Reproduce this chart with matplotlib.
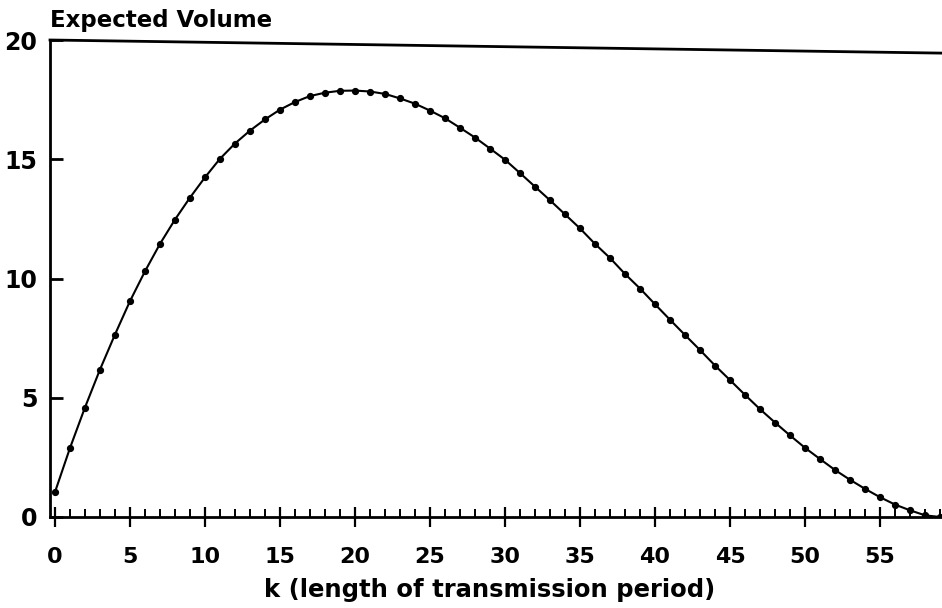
#!/usr/bin/env python3

import matplotlib
matplotlib.use("Agg")
import matplotlib.pyplot as plt
import numpy as np
from matplotlib.ticker import MultipleLocator

# expected volume for each k
k = np.arange(0, 60)
volume = [1.04, 2.89, 4.59, 6.18, 7.65, 9.05, 10.30, 11.45, 12.47, 13.39,
          14.24, 15.02, 15.66, 16.20, 16.67, 17.08, 17.40, 17.65, 17.79, 17.87,
          17.88, 17.84, 17.74, 17.55, 17.33, 17.04, 16.72, 16.32, 15.91, 15.45,
          14.98, 14.42, 13.85, 13.28, 12.69, 12.10, 11.45, 10.86, 10.19, 9.58,
          8.92, 8.27, 7.63, 7.00, 6.35, 5.74, 5.12, 4.52, 3.96, 3.42,
          2.90, 2.43, 1.97, 1.56, 1.18, 0.83, 0.52, 0.28, 0.07, 0.0]

# upper line across the top of the plot
top_k = [-0.33, 59.13]
top_v = [20.0, 19.45]

xticks = [0, 5, 10, 15, 20, 25, 30, 35, 40, 45, 50, 55]
yticks = [0, 5, 10, 15, 20]

plt.rcParams['font.family'] = ['DejaVu Sans']
plt.rcParams['font.weight'] = 'bold'

fig = plt.figure(figsize=(9.42, 6.08), dpi=100)
ax = fig.add_axes([50 / 942, 91 / 608, 892 / 942, 477 / 608])

ax.plot(k, volume, color='black', lw=1.5, marker='o', ms=4.2)
ax.plot(top_k, top_v, color='black', lw=2.0, clip_on=False)

ax.set_xlim(-0.33, 59.13)
ax.set_ylim(0, 20)

for s in ['top', 'right']:
    ax.spines[s].set_visible(False)
for s in ['left', 'bottom']:
    ax.spines[s].set_linewidth(2.0)

ax.set_xticks(xticks)
ax.set_yticks(yticks)
ax.xaxis.set_minor_locator(MultipleLocator(1))

ax.tick_params(axis='x', which='major', direction='inout', length=14.5, width=1.6,
               labelsize=16, pad=14)
ax.tick_params(axis='x', which='minor', direction='in', length=6, width=1.4)
ax.tick_params(axis='y', which='major', direction='in', length=9, width=2.0,
               labelsize=17, pad=9)
for lab in ax.get_xticklabels() + ax.get_yticklabels():
    lab.set_fontweight('bold')

ax.set_xlabel("k (length of transmission period)", fontsize=17.5,
              fontweight='bold')
ax.xaxis.set_label_coords((490 - 50) / 892, -(597 - 517) / 477, transform=ax.transAxes)
ax.xaxis.label.set_va('baseline')
fig.text(50 / 942, 1 - 27 / 608, "Expected Volume", fontsize=16.5,
         fontweight='bold', ha='left', va='baseline')

fig.savefig("out.png", dpi=100)
